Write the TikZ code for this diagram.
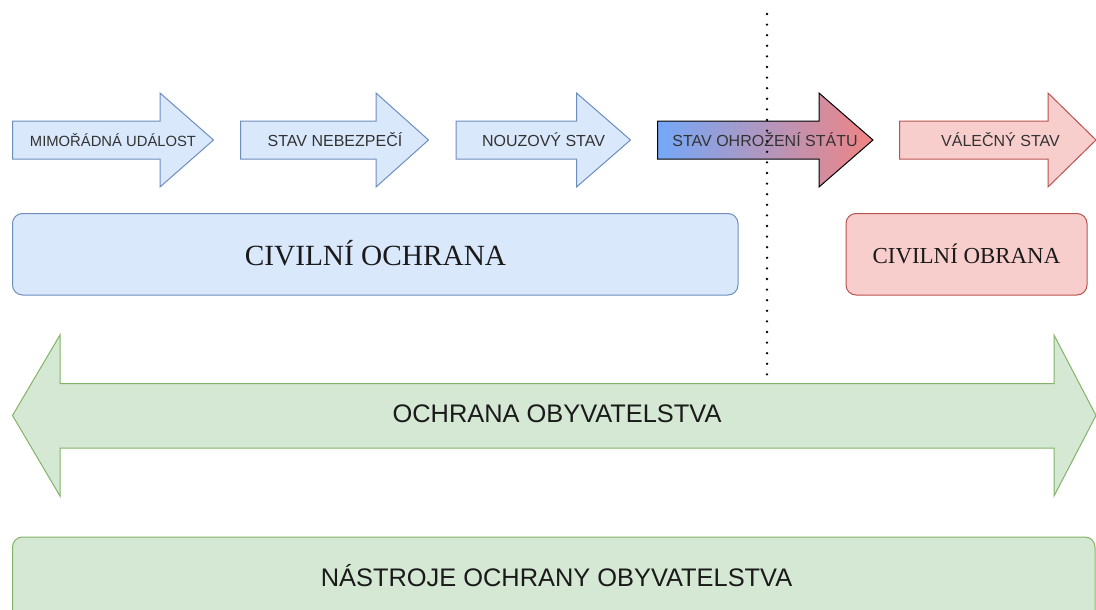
\documentclass[tikz,border=0pt]{standalone}
\usepackage{fontspec}
\setmainfont{Liberation Serif}
\newfontfamily\arialf{Liberation Sans}
\definecolor{bluefill}{HTML}{DAE8FC}
\definecolor{bluedraw}{HTML}{6C8EBF}
\definecolor{redfill}{HTML}{F8CECC}
\definecolor{reddraw}{HTML}{B85450}
\definecolor{greenfill}{HTML}{D5E8D4}
\definecolor{greendraw}{HTML}{82B366}
\definecolor{gradleft}{HTML}{74A8F8}
\definecolor{gradright}{HTML}{F08484}
\definecolor{labelgray}{HTML}{333333}
\definecolor{darktext}{HTML}{1A1A1A}
\tikzset{
  bluearrow/.style={fill=bluefill,draw=bluedraw,line width=1pt,line join=miter},
  redarrow/.style={fill=redfill,draw=reddraw,line width=1pt,line join=miter},
  gradarrow/.style={left color=gradleft,right color=gradright,draw=black,line width=1pt,line join=miter},
  greenarrow/.style={fill=greenfill,draw=greendraw,line width=1pt,line join=miter},
  stagelabel/.style={font=\arialf\fontsize{16}{18}\selectfont,text=labelgray,inner sep=0pt},
  serifbig/.style={font=\fontsize{29.3}{33}\selectfont,text=darktext,inner sep=0pt},
  serifmid/.style={font=\fontsize{22.9}{26}\selectfont,text=darktext,inner sep=0pt},
  sanslabel/.style={font=\arialf\fontsize{25.4}{29}\selectfont,text=darktext,inner sep=0pt},
  boundary/.style={line width=2.6pt,line cap=round,dash pattern=on 0pt off 10.6pt,draw=black},
}
% right-pointing block arrow: style, left edge, head base, tip
\newcommand{\stagearrow}[4]{%
  \path[#1] (#2,121) -- (#3,121) -- (#3,93) -- (#4,140) -- (#3,187) -- (#3,159) -- (#2,159) -- cycle;}
\begin{document}
\begin{tikzpicture}[x=1pt,y=-1pt]
\useasboundingbox (0,0) rectangle (1096,610);

% stage arrows
\stagearrow{bluearrow}{12.5}{160}{213.5}
\stagearrow{bluearrow}{240.5}{376}{428.5}
\stagearrow{bluearrow}{456}{576.5}{630.5}
\stagearrow{gradarrow}{657.5}{819}{873}
\stagearrow{redarrow}{899.5}{1048}{1096}
\node[stagelabel,font=\arialf\fontsize{14.8}{17}\selectfont] (mu) at (113,140) {MIMOŘÁDNÁ UDÁLOST};
\node[stagelabel] (sn) at (335,140) {STAV NEBEZPEČÍ};
\node[stagelabel] (ns) at (543.5,140) {NOUZOVÝ STAV};
\node[stagelabel] (sos) at (765,140) {STAV OHROŽENÍ STÁTU};
\node[stagelabel] (vs) at (1000.5,140) {VÁLEČNÝ STAV};

% civil protection / civil defence
\draw[fill=bluefill,draw=bluedraw,line width=1pt,rounded corners=10pt]
  (12.5,213.5) rectangle (738,295);
\node[serifbig] (co) at (375.5,253) {CIVILNÍ OCHRANA};
\draw[fill=redfill,draw=reddraw,line width=1pt,rounded corners=10pt]
  (846,213.5) rectangle (1087,295);
\node[serifmid] (cob) at (966.5,253.5) {CIVILNÍ OBRANA};

% double arrow
\path[greenarrow] (12.5,415.5) -- (60,335) -- (60,383.5) -- (1054,383.5) -- (1054,335)
  -- (1096,415.5) -- (1054,496) -- (1054,448) -- (60,448) -- (60,496) -- cycle;
\node[sanslabel] (oo) at (557,413.5) {OCHRANA OBYVATELSTVA};

% tools box
\draw[fill=greenfill,draw=greendraw,line width=1pt,rounded corners=10pt]
  (12.5,537) rectangle (1095,625);
\node[sanslabel] (noo) at (556.5,576) {NÁSTROJE OCHRANY OBYVATELSTVA};

% boundary between peace and war
\coordinate (btop) at (767,14);
\coordinate (bbot) at (767,382);
\draw[boundary] (btop) -- (bbot);
\end{tikzpicture}
\end{document}
